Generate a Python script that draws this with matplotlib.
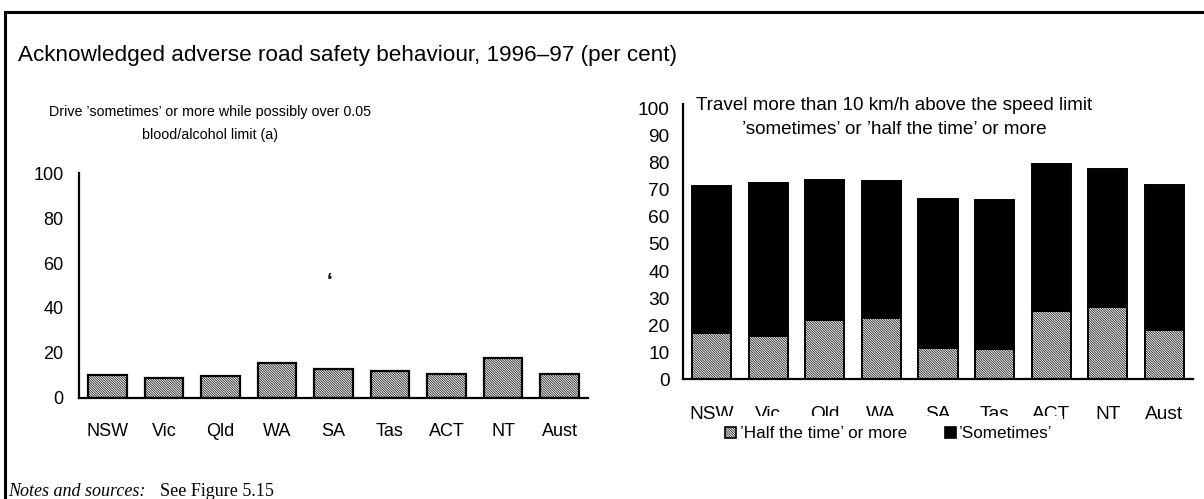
import matplotlib
matplotlib.use("Agg")
import matplotlib.pyplot as plt
from matplotlib.lines import Line2D
from matplotlib.patches import Patch
import numpy as np

plt.rcParams["font.family"] = ["Liberation Sans", "DejaVu Sans"]
plt.rcParams["hatch.linewidth"] = 0.5

states = ["NSW", "Vic", "Qld", "WA", "SA", "Tas", "ACT", "NT", "Aust"]

# left panel: drive over 0.05 'sometimes' or more
drink_drive = [10.1, 8.6, 9.7, 15.3, 12.9, 11.7, 10.5, 17.7, 10.4]

# right panel: speeding, total and 'half the time' or more
speed_half = [17.2, 16.1, 21.8, 22.8, 11.6, 11.1, 25.2, 26.8, 18.1]
speed_total = [71.4, 72.7, 73.8, 73.2, 66.6, 66.4, 79.7, 77.7, 71.9]
speed_sometimes = [t - h for t, h in zip(speed_total, speed_half)]

left_ticks = [0, 20, 40, 60, 80, 100]
right_ticks = list(range(0, 101, 10))

W, H = 1204, 499
fig = plt.figure(figsize=(W / 100, H / 100), dpi=100)


def px_axes(left, right, bottom, top):
    return fig.add_axes([left / W, 1 - bottom / H, (right - left) / W, (bottom - top) / H])


def fx(px):
    return px / W


def fy(py):
    return 1 - py / H


HATCH = "\\" * 14
x = np.arange(len(states))

# outer frame (left and top edges only show in the crop)
fig.add_artist(Line2D([fx(5), fx(5), 1.0], [0.0, fy(12), fy(12)], transform=fig.transFigure,
                      color="black", linewidth=2.2, solid_joinstyle="miter"))

fig.text(fx(18), fy(55), "Acknowledged adverse road safety behaviour, 1996\u201397 (per cent)",
         fontsize=16.2, va="center", ha="left")

# ---- left panel
ax1 = px_axes(79, 588, 397.7, 173.4)
ax1.bar(x, drink_drive, width=0.68, color="white", edgecolor="black", linewidth=1.6, hatch=HATCH)
ax1.set_xlim(-0.5, 8.5)
ax1.set_ylim(0, 100)
ax1.set_yticks(left_ticks)
ax1.set_xticks(x)
ax1.set_xticklabels(states)
ax1.tick_params(length=0, labelsize=13)
ax1.tick_params(axis="y", pad=11)
ax1.tick_params(axis="x", pad=18)
for s in ["top", "right"]:
    ax1.spines[s].set_visible(False)
for s in ["left", "bottom"]:
    ax1.spines[s].set_linewidth(1.6)
fig.text(fx(330), fy(281), "\u2018", fontsize=15, fontweight="bold", ha="center", va="center")
fig.text(fx(210), fy(112), "Drive \u2019sometimes\u2019 or more while possibly over 0.05",
         fontsize=10.3, ha="center", va="center")
fig.text(fx(210), fy(135), "blood/alcohol limit (a)", fontsize=10.3, ha="center", va="center")

# ---- right panel
ax2 = px_axes(683.3, 1192.7, 379.3, 104)
ax2.bar(x, speed_half, width=0.69, color="white", edgecolor="black", linewidth=1.4, hatch=HATCH)
ax2.bar(x, speed_sometimes, bottom=speed_half, width=0.69, color="black", edgecolor="black",
        linewidth=1.4)
ax2.set_xlim(-0.5, 8.5)
ax2.set_ylim(0, 101.7)
ax2.set_yticks(right_ticks)
ax2.set_xticks(x)
ax2.set_xticklabels(states)
ax2.tick_params(length=0, labelsize=13.8)
ax2.tick_params(axis="y", pad=10)
ax2.tick_params(axis="x", pad=19)
for s in ["top", "right"]:
    ax2.spines[s].set_visible(False)
for s in ["left", "bottom"]:
    ax2.spines[s].set_linewidth(1.6)
fig.text(fx(894), fy(105), "Travel more than 10 km/h above the speed limit",
         fontsize=13.6, ha="center", va="center")
fig.text(fx(894), fy(130), "\u2019sometimes\u2019 or \u2019half the time\u2019 or more",
         fontsize=13.6, ha="center", va="center")

handles = [Patch(facecolor="white", edgecolor="black", hatch=HATCH, linewidth=1.2),
           Patch(facecolor="black", edgecolor="black", linewidth=1.2)]
leg = ax2.legend(handles, ["\u2019Half the time\u2019 or more", "\u2019Sometimes\u2019"],
                 loc="center", bbox_to_anchor=(fx(889), fy(434)),
                 bbox_transform=fig.transFigure, ncol=2, fontsize=12.3,
                 frameon=True, fancybox=False, framealpha=1, borderpad=0.6,
                 handlelength=0.65, handleheight=0.65, handletextpad=0.2, columnspacing=2.2)
leg.get_frame().set_edgecolor("none")
leg.get_frame().set_facecolor("white")

fig.text(fx(8), fy(492), "Notes and sources:", fontsize=13, family="Liberation Serif",
         style="italic", ha="left", va="center")
fig.text(fx(160), fy(492), "See Figure 5.15", fontsize=13, family="Liberation Serif",
         ha="left", va="center")

fig.savefig("out.png", dpi=100)
